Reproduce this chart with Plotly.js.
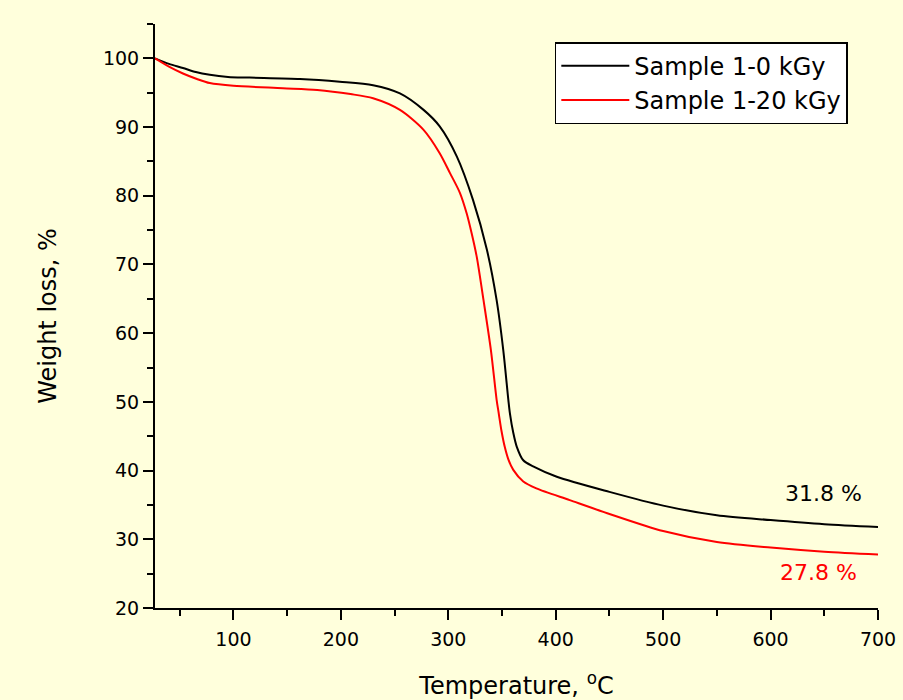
<!DOCTYPE html>
<html>
<head>
<meta charset="utf-8">
<script src="https://cdn.plot.ly/plotly-3.0.1.min.js"></script>
<style>html,body{margin:0;padding:0;background:#FFFFDC;}#chart{width:903px;height:700px;}</style>
</head>
<body>
<div id="chart"></div>
<script>
// Temperature (°C) and weight (%)
const temp0 = [27, 40, 53, 65, 78, 95, 115, 162, 199, 230, 255, 277, 292, 308, 323, 336, 345, 351.2, 355.9, 357.4, 360.5, 363.7, 369.8, 379, 401, 450, 500, 550, 600, 650, 700];
const weight0 = [100, 99.2, 98.6, 98.0, 97.6, 97.3, 97.2, 97.0, 96.6, 96.1, 94.9, 92.5, 90.1, 85.7, 79.4, 72.1, 64.8, 57.5, 50.3, 48.3, 45.5, 43.5, 41.5, 40.6, 39.1, 36.9, 34.9, 33.5, 32.8, 32.2, 31.8];
const temp20 = [27, 40, 53, 66, 78, 100, 146, 178, 209, 230, 255, 277, 292, 301.6, 310.9, 317.1, 321.8, 326.5, 332.8, 339.7, 345, 347, 349.5, 352.5, 356, 360.5, 369.8, 382, 413, 448, 500, 550, 600, 650, 700];
const weight20 = [100, 98.8, 97.8, 97.0, 96.4, 96.0, 95.65, 95.4, 94.8, 94.2, 92.5, 89.6, 86.2, 83.3, 80.4, 77.45, 74.5, 71.1, 64.8, 57.5, 50.3, 48.3, 45.8, 43.5, 41.6, 40.1, 38.4, 37.4, 35.7, 33.8, 31.2, 29.6, 28.8, 28.2, 27.8];
const seriesNames = ["Sample 1-0 kGy", "Sample 1-20 kGy"];
const endLabels = ["31.8 %", "27.8 %"];
const endLabelX = [649, 645];
const endLabelY = [36.7, 25.1];
const xTicks = [100, 200, 300, 400, 500, 600, 700];
const yTicks = [20, 30, 40, 50, 60, 70, 80, 90, 100];

const FONT = "'DejaVu Sans', sans-serif";
const traces = [
  {x: temp0, y: weight0, name: seriesNames[0], type: "scatter", mode: "lines",
   line: {color: "#000000", width: 2, shape: "spline", smoothing: 0.8}},
  {x: temp20, y: weight20, name: seriesNames[1], type: "scatter", mode: "lines",
   line: {color: "#FF0000", width: 2, shape: "spline", smoothing: 0.8}}
];
const axisCommon = {
  showline: true, linecolor: "#000", linewidth: 2, mirror: false,
  showgrid: false, zeroline: false, ticks: "outside", ticklen: 10, tickwidth: 2,
  tickcolor: "#000", tickfont: {family: FONT, size: 19, color: "#000"},
  automargin: false
};
const layout = {
  width: 903, height: 700,
  paper_bgcolor: "#FFFFDC", plot_bgcolor: "#FFFFDC",
  margin: {l: 155, r: 25, t: 24, b: 92},
  showlegend: true,
  legend: {x: 0.553, y: 0.969, xanchor: "left", yanchor: "top",
           bgcolor: "#FFFFFF", bordercolor: "#000", borderwidth: 1.5,
           itemwidth: 68,
           font: {family: FONT, size: 24, color: "#000"}},
  xaxis: Object.assign({}, axisCommon, {
    range: [27, 700], tickvals: xTicks, ticktext: xTicks.map(String),
    ticklabelstandoff: 3,
    minor: {ticks: "outside", dtick: 50, tick0: 0, ticklen: 6, tickwidth: 2, tickcolor: "#000"},
    title: {text: "Temperature, <sup>o</sup>C", font: {family: FONT, size: 24, color: "#000"}, standoff: 38}
  }),
  yaxis: Object.assign({}, axisCommon, {
    range: [20, 105], tickvals: yTicks, ticktext: yTicks.map(String),
    minor: {ticks: "outside", dtick: 5, tick0: 0, ticklen: 6, tickwidth: 2, tickcolor: "#000"},
    title: {text: "Weight loss, %", font: {family: FONT, size: 24, color: "#000"}, standoff: 40}
  }),
  annotations: [
    {x: endLabelX[0], y: endLabelY[0], xref: "x", yref: "y", text: endLabels[0], showarrow: false,
     font: {family: FONT, size: 22, color: "#000"}},
    {x: endLabelX[1], y: endLabelY[1], xref: "x", yref: "y", text: endLabels[1], showarrow: false,
     font: {family: FONT, size: 22, color: "#FF0000"}}
  ]
};
Plotly.newPlot("chart", traces, layout, {displayModeBar: false, staticPlot: true});
</script>
</body>
</html>
